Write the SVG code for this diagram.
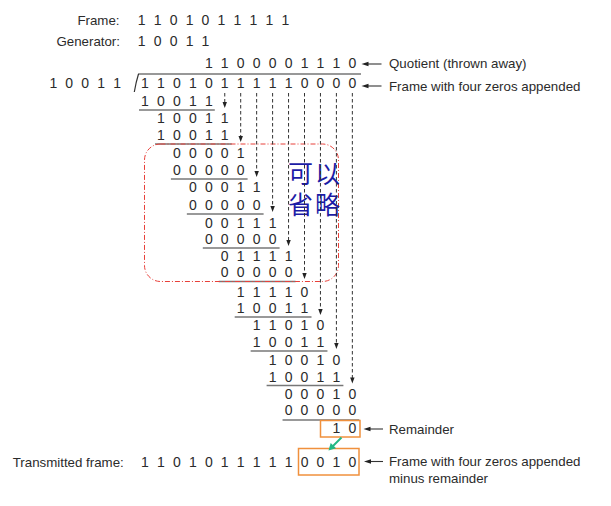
<svg xmlns="http://www.w3.org/2000/svg" width="611" height="506" viewBox="0 0 611 506">
<style>
.d{font-family:"Liberation Sans",Arial,sans-serif;font-size:14px;letter-spacing:2.14px;fill:#2b2b2b}
.l{font-family:"Liberation Sans",Arial,sans-serif;font-size:13.3px;fill:#2b2b2b}
.ul{stroke:#777;stroke-width:1.3;fill:none}
.dash{stroke:#333;stroke-width:1;stroke-dasharray:3.5 2.5;fill:none}
.ah{fill:#222}
.la{stroke:#333;stroke-width:1.1;fill:none}
.box{fill:none;stroke:#f0903c;stroke-width:1.5}
.cjk{font-family:"Noto Sans CJK SC","Noto Sans CJK TC",sans-serif;font-size:25px;letter-spacing:2px;fill:#1c1ca6}
</style>
<rect width="611" height="506" fill="#fff"/>

<g id="header">
<text class="l" x="119.5" y="25" text-anchor="end">Frame:</text>
<text class="d" x="137.8" y="25">1 1 0 1 0 1 1 1 1 1</text>
<text class="l" x="120" y="45.5" text-anchor="end">Generator:</text>
<text class="d" x="137.8" y="45.5">1 0 0 1 1</text>
</g>

<g id="divisor">
<text class="d" x="49.4" y="88">1 0 0 1 1</text>
<path d="M134.3 92 Q136 82 138.5 74 L361 74" stroke="#333" stroke-width="1.2" fill="none"/>
</g>

<g id="quotient">
<text class="d" x="204.9" y="67.5">1 1 0 0 0 0 1 1 1 0</text>
<text class="l" x="389" y="68">Quotient (thrown away)</text>
</g>

<g id="dividend">
<text class="d" x="141.1" y="88">1 1 0 1 0 1 1 1 1 1 0 0 0 0</text>
<text class="l" x="389" y="90.5">Frame with four zeros appended</text>
</g>

<g id="steps">
<text class="d" x="141.1" y="106">1 0 0 1 1</text>
<line class="ul" x1="139" y1="110" x2="214.8" y2="110"/>
<text class="d" x="157.05" y="123">1 0 0 1 1</text>
<text class="d" x="157.05" y="140">1 0 0 1 1</text>
<line class="ul" x1="155" y1="144" x2="231.7" y2="144"/>
<text class="d" x="173" y="158">0 0 0 0 1</text>
<text class="d" x="173" y="175">0 0 0 0 0</text>
<line class="ul" x1="170.9" y1="179" x2="247.6" y2="179"/>
<text class="d" x="188.95" y="191.5">0 0 0 1 1</text>
<text class="d" x="188.95" y="210">0 0 0 0 0</text>
<line class="ul" x1="186.85" y1="214" x2="263.6" y2="214"/>
<text class="d" x="204.9" y="228">0 0 1 1 1</text>
<text class="d" x="204.9" y="244">0 0 0 0 0</text>
<line class="ul" x1="202.8" y1="248" x2="279.6" y2="248"/>
<text class="d" x="220.85" y="261">0 1 1 1 1</text>
<text class="d" x="220.85" y="277">0 0 0 0 0</text>
<line class="ul" x1="218.75" y1="281.5" x2="295.55" y2="281.5"/>
<text class="d" x="236.8" y="296.5">1 1 1 1 0</text>
<text class="d" x="236.8" y="313">1 0 0 1 1</text>
<line class="ul" x1="234.7" y1="317" x2="311.5" y2="317"/>
<text class="d" x="252.75" y="330">1 1 0 1 0</text>
<text class="d" x="252.75" y="347">1 0 0 1 1</text>
<line class="ul" x1="250.65" y1="351" x2="327.45" y2="351"/>
<text class="d" x="268.7" y="365">1 0 0 1 0</text>
<text class="d" x="268.7" y="381.5">1 0 0 1 1</text>
<line class="ul" x1="266.6" y1="385.5" x2="343.4" y2="385.5"/>
<text class="d" x="284.65" y="399">0 0 0 1 0</text>
<text class="d" x="284.65" y="414.5">0 0 0 0 0</text>
<line class="ul" x1="282.55" y1="420" x2="359.35" y2="420"/>
</g>

<g id="remainder">
<text class="d" x="332.5" y="433">1 0</text>
<rect class="box" x="320.5" y="420.5" width="39.5" height="16.5"/>
<text class="l" x="389" y="433.5">Remainder</text>
</g>

<g id="transmitted">
<text class="l" x="12.7" y="466.5">Transmitted frame:</text>
<text class="d" x="141.1" y="466.5">1 1 0 1 0 1 1 1 1 1 0 0 1 0</text>
<rect class="box" x="298.5" y="448.5" width="60.5" height="26.5"/>
<text class="l" x="389" y="466">Frame with four zeros appended</text>
<text class="l" x="389" y="483">minus remainder</text>
</g>

<g id="omit-note">
<rect x="144.5" y="144" width="194" height="137.5" rx="16" fill="none" stroke="#e8403a" stroke-width="1" stroke-dasharray="5 2 1 2"/>
<text class="cjk"><tspan x="288" y="183">可以</tspan><tspan x="288" y="214">省略</tspan></text>
</g>

<g id="connectors">
<line class="dash" x1="224.75" y1="93" x2="224.75" y2="103"/>
<path class="ah" d="M224.75 108 l-2.2 -6 h4.4 z"/>
<line class="dash" x1="240.7" y1="93" x2="240.7" y2="137"/>
<path class="ah" d="M240.7 142 l-2.2 -6 h4.4 z"/>
<line class="dash" x1="256.65" y1="93" x2="256.65" y2="172"/>
<path class="ah" d="M256.65 177 l-2.2 -6 h4.4 z"/>
<line class="dash" x1="272.6" y1="93" x2="272.6" y2="207"/>
<path class="ah" d="M272.6 212 l-2.2 -6 h4.4 z"/>
<line class="dash" x1="288.55" y1="93" x2="288.55" y2="241"/>
<path class="ah" d="M288.55 246 l-2.2 -6 h4.4 z"/>
<line class="dash" x1="304.5" y1="93" x2="304.5" y2="274"/>
<path class="ah" d="M304.5 279 l-2.2 -6 h4.4 z"/>
<line class="dash" x1="320.45" y1="93" x2="320.45" y2="310"/>
<path class="ah" d="M320.45 315 l-2.2 -6 h4.4 z"/>
<line class="dash" x1="336.4" y1="93" x2="336.4" y2="344"/>
<path class="ah" d="M336.4 349 l-2.2 -6 h4.4 z"/>
<line class="dash" x1="352.35" y1="93" x2="352.35" y2="378.5"/>
<path class="ah" d="M352.35 383.5 l-2.2 -6 h4.4 z"/>

<line class="la" x1="367" y1="64" x2="381.5" y2="64"/>
<path class="ah" d="M361.5 64 l7 -2.2 v4.4 z"/>
<line class="la" x1="367" y1="86" x2="381.5" y2="86"/>
<path class="ah" d="M361.5 86 l7 -2.2 v4.4 z"/>
<line class="la" x1="369" y1="429" x2="383" y2="429"/>
<path class="ah" d="M363.5 429 l7 -2.2 v4.4 z"/>
<line class="la" x1="369" y1="461.5" x2="383" y2="461.5"/>
<path class="ah" d="M364 461.5 l7 -2.2 v4.4 z"/>

<line x1="341.5" y1="437.5" x2="332.5" y2="446.5" stroke="#22b884" stroke-width="2"/>
<path d="M328.5 450.5 l2.2 -7.6 l5.4 5.4 z" fill="#22b884"/>
</g>
</svg>
